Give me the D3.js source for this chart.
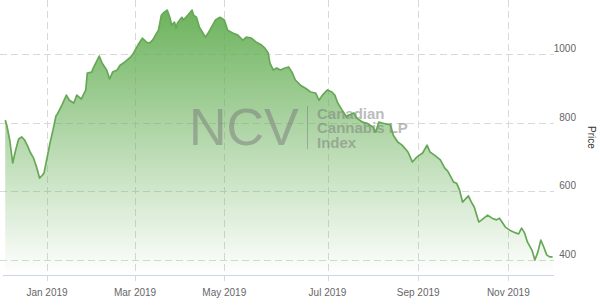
<!DOCTYPE html>
<html>
<head>
<meta charset="utf-8">
<script src="https://cdn.jsdelivr.net/npm/d3@7"></script>
<style>
  body { margin: 0; background: #fff; }
  svg { display: block; font-family: "Liberation Sans", Arial, Helvetica, sans-serif; }
</style>
</head>
<body>
<svg id="ncv-chart" width="600" height="305"></svg>
<script>
// --- Data ---
const dates = [
  "2018-12-04","2018-12-05","2018-12-07","2018-12-09","2018-12-11","2018-12-13","2018-12-15","2018-12-17",
  "2018-12-19","2018-12-21","2018-12-23","2018-12-25","2018-12-27","2018-12-29","2018-12-30","2019-01-01",
  "2019-01-03","2019-01-05","2019-01-07","2019-01-08","2019-01-11","2019-01-14","2019-01-16","2019-01-19",
  "2019-01-21","2019-01-24","2019-01-27","2019-01-28","2019-01-31","2019-02-01","2019-02-05","2019-02-07",
  "2019-02-10","2019-02-12","2019-02-14","2019-02-17","2019-02-19","2019-02-22","2019-02-26","2019-02-28",
  "2019-03-03","2019-03-06","2019-03-09","2019-03-11","2019-03-13","2019-03-17","2019-03-19","2019-03-21",
  "2019-03-23","2019-03-25","2019-03-26","2019-03-28","2019-03-29","2019-03-30","2019-04-02","2019-04-03",
  "2019-04-06","2019-04-09","2019-04-10","2019-04-12","2019-04-14","2019-04-16","2019-04-18","2019-04-20",
  "2019-04-23","2019-04-25","2019-04-28","2019-05-01","2019-05-03","2019-05-06","2019-05-09","2019-05-12",
  "2019-05-14","2019-05-17","2019-05-20","2019-05-23","2019-05-25","2019-05-27","2019-05-28","2019-05-30",
  "2019-06-01","2019-06-03","2019-06-06","2019-06-08","2019-06-10","2019-06-12","2019-06-15","2019-06-18",
  "2019-06-21","2019-06-24","2019-06-26","2019-06-28","2019-07-01","2019-07-04","2019-07-06","2019-07-08",
  "2019-07-11","2019-07-14","2019-07-16","2019-07-19","2019-07-21","2019-07-25","2019-07-28","2019-08-01",
  "2019-08-03","2019-08-05","2019-08-08","2019-08-13","2019-08-15","2019-08-18","2019-08-21","2019-08-25",
  "2019-08-28","2019-08-31","2019-09-04","2019-09-07","2019-09-09","2019-09-12","2019-09-16","2019-09-19",
  "2019-09-21","2019-09-25","2019-09-27","2019-09-29","2019-10-01","2019-10-05","2019-10-07","2019-10-09",
  "2019-10-12","2019-10-14","2019-10-18","2019-10-21","2019-10-24","2019-10-26","2019-10-30","2019-11-02",
  "2019-11-06","2019-11-08","2019-11-10","2019-11-12","2019-11-14","2019-11-17","2019-11-19","2019-11-21",
  "2019-11-23","2019-11-25","2019-11-27","2019-11-29","2019-12-01"
];

const prices = [
  808, 794, 750, 683, 721, 753, 759, 750,
  732, 712, 697, 671, 639, 648, 654, 697,
  741, 779, 820, 826, 852, 881, 866, 858,
  881, 869, 896, 945, 948, 960, 995, 974,
  954, 928, 948, 954, 968, 977, 992, 1003,
  1027, 1047, 1035, 1033, 1041, 1070, 1114, 1123,
  1129, 1105, 1085, 1094, 1076, 1091, 1108, 1100,
  1114, 1129, 1114, 1108, 1079, 1065, 1050, 1062,
  1085, 1100, 1108, 1100, 1070, 1062, 1056, 1041,
  1050, 1047, 1035, 1027, 1018, 1003, 974, 954,
  960, 954, 960, 963, 948, 925, 910, 901,
  890, 887, 866, 881, 896, 890, 881, 858,
  837, 817, 823, 829, 814, 802, 799, 788,
  773, 802, 799, 794, 764, 744, 735, 715,
  686, 700, 712, 735, 715, 706, 692, 668,
  659, 627, 624, 604, 569, 587, 569, 554,
  511, 517, 531, 522, 517, 522, 496, 487,
  479, 476, 493, 479, 452, 429, 400, 423,
  458, 438, 415, 409, 409
];

const xTickDates = ["2019-01-01", "2019-03-01", "2019-05-01", "2019-07-01", "2019-09-01", "2019-11-01"];
const xTickLabels = ["Jan 2019", "Mar 2019", "May 2019", "Jul 2019", "Sep 2019", "Nov 2019"];
const yTicks = [400, 600, 800, 1000];
const yTitle = "Price";
const watermarkBig = "NCV";
const watermarkLines = ["Canadian", "Cannabis LP", "Index"];

// --- Setup ---
const svg = d3.select("#ncv-chart");
const plot = { left: 0, right: 554, top: 0, bottom: 275 };
const parse = d3.timeParse("%Y-%m-%d");

const series = dates.map((d, i) => ({ date: parse(d), price: prices[i] }));
const tickDates = xTickDates.map(parse);

// the reference axis is not evenly spaced per month, so map tick to tick
const x = d3.scaleTime()
  .domain(tickDates)
  .range([47, 135, 224.3, 327.5, 418.2, 508.3]);

const y = d3.scaleLinear()
  .domain([400, 1000])
  .range([260, 54.3]);

const gridColor = "#d9d9d9";
const labelColor = "#666";

// --- Gradient ---
const defs = svg.append("defs");
const grad = defs.append("linearGradient")
  .attr("id", "area-grad")
  .attr("gradientUnits", "userSpaceOnUse")
  .attr("x1", 0).attr("x2", 0)
  .attr("y1", plot.top).attr("y2", plot.bottom);
grad.append("stop").attr("offset", 0).attr("stop-color", "#67b057").attr("stop-opacity", 1);
grad.append("stop").attr("offset", 1).attr("stop-color", "#67b057").attr("stop-opacity", 0);

// --- Grid ---
svg.append("g")
  .selectAll("line")
  .data(yTicks)
  .join("line")
  .attr("x1", plot.left)
  .attr("x2", plot.right)
  .attr("y1", d => Math.round(y(d)) + 0.5)
  .attr("y2", d => Math.round(y(d)) + 0.5)
  .attr("stroke", gridColor)
  .attr("stroke-dasharray", "7,4");

svg.append("g")
  .selectAll("line")
  .data(tickDates)
  .join("line")
  .attr("x1", d => Math.round(x(d)) + 0.5)
  .attr("x2", d => Math.round(x(d)) + 0.5)
  .attr("y1", plot.top)
  .attr("y2", plot.bottom)
  .attr("stroke", gridColor)
  .attr("stroke-dasharray", "7,4");

// --- Area + line ---
const area = d3.area()
  .x(d => x(d.date))
  .y0(plot.bottom)
  .y1(d => y(d.price));

const line = d3.line()
  .x(d => x(d.date))
  .y(d => y(d.price));

svg.append("path")
  .datum(series)
  .attr("fill", "url(#area-grad)")
  .attr("d", area);

// --- Watermark ---
const wm = svg.append("g")
  .attr("fill", "#7a7a7a")
  .attr("opacity", 0.5);

wm.append("text")
  .attr("x", 189)
  .attr("y", 145)
  .style("font-size", "52px")
  .text(watermarkBig);

wm.append("line")
  .attr("x1", 307.5).attr("x2", 307.5)
  .attr("y1", 106).attr("y2", 149)
  .attr("stroke", "#7a7a7a")
  .attr("stroke-width", 1);

wm.selectAll("text.wm-line")
  .data(watermarkLines)
  .join("text")
  .attr("class", "wm-line")
  .attr("x", 317)
  .attr("y", (d, i) => 118.5 + i * 14.5)
  .style("font-size", "15px")
  .style("font-weight", "bold")
  .text(d => d);

svg.append("path")
  .datum(series)
  .attr("fill", "none")
  .attr("stroke", "#66a856")
  .attr("stroke-width", 1.7)
  .attr("stroke-linejoin", "round")
  .attr("d", line);

// --- X axis ---
svg.append("line")
  .attr("x1", plot.left + 3)
  .attr("x2", plot.right)
  .attr("y1", plot.bottom + 0.5)
  .attr("y2", plot.bottom + 0.5)
  .attr("stroke", "#ccd6eb");

svg.append("g")
  .selectAll("line")
  .data(tickDates)
  .join("line")
  .attr("x1", d => Math.round(x(d)) + 0.5)
  .attr("x2", d => Math.round(x(d)) + 0.5)
  .attr("y1", plot.bottom)
  .attr("y2", plot.bottom + 6)
  .attr("stroke", gridColor);

svg.append("g")
  .selectAll("text")
  .data(tickDates)
  .join("text")
  .attr("x", d => x(d))
  .attr("y", 296)
  .attr("text-anchor", "middle")
  .attr("fill", labelColor)
  .style("font-size", "10px")
  .text((d, i) => xTickLabels[i]);

// --- Y axis (right) ---
svg.append("g")
  .selectAll("text")
  .data(yTicks)
  .join("text")
  .attr("x", 576)
  .attr("y", d => y(d) - 2)
  .attr("text-anchor", "end")
  .attr("fill", labelColor)
  .style("font-size", "10px")
  .text(d => d);

svg.append("text")
  .attr("transform", `translate(588,${(plot.top + plot.bottom) / 2}) rotate(90)`)
  .attr("text-anchor", "middle")
  .attr("fill", "#333")
  .style("font-size", "10px")
  .text(yTitle);
</script>
</body>
</html>
